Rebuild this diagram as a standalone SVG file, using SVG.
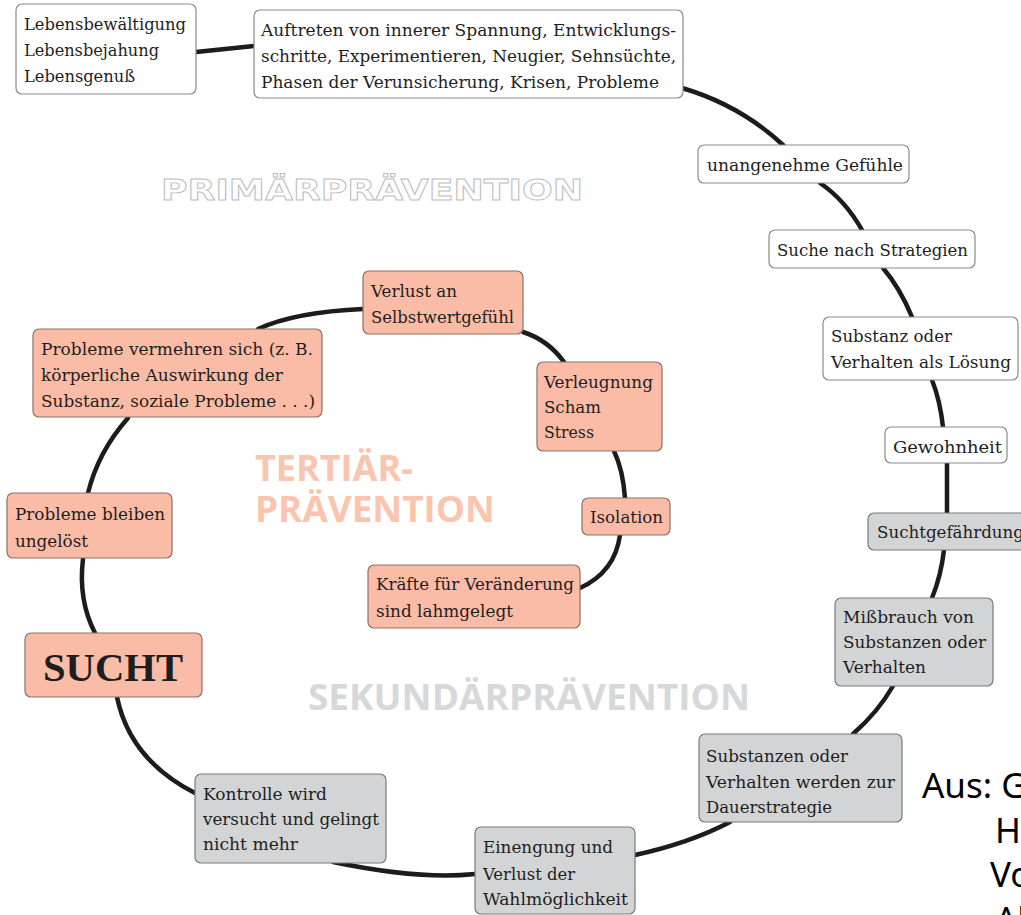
<svg xmlns="http://www.w3.org/2000/svg" width="1021" height="915" viewBox="0 0 1021 915">
<style>
.bw{fill:#ffffff;stroke:#8a8a8a;stroke-width:1.2}
.bs{fill:#fbbca7;stroke:#8c7068;stroke-width:1.2}
.bg{fill:#d3d4d6;stroke:#7a7a7a;stroke-width:1.2}
.t{font-family:"DejaVu Serif","Liberation Serif",serif;font-size:16px;fill:#1e1e1e}
.c{fill:none;stroke:#1c1c1c;stroke-width:4.5;stroke-linecap:round}
.big{font-family:"Open Sans","Noto Sans",sans-serif;font-weight:bold}
</style>
<rect width="1021" height="915" fill="#ffffff"/>
<text x="161" y="200" font-family="DejaVu Sans,sans-serif" font-weight="bold" font-size="29" fill="#ffffff" stroke="#bdbdbd" stroke-width="0.9" textLength="422" lengthAdjust="spacingAndGlyphs">PRIMÄRPRÄVENTION</text>
<text class="big" font-size="36" fill="#fbc4ae"><tspan x="255" y="481">TERTIÄR-</tspan><tspan x="255" y="522" textLength="240" lengthAdjust="spacingAndGlyphs">PRÄVENTION</tspan></text>
<text class="big" x="308" y="710" font-size="35" fill="#d7d8da" textLength="442" lengthAdjust="spacingAndGlyphs">SEKUNDÄRPRÄVENTION</text>
<g id="connectors">
<path class="c" d="M196,52 L254,46"/>
<path class="c" d="M682,88 Q740,105 783,145"/>
<path class="c" d="M820,183 Q845,200 862,230"/>
<path class="c" d="M883,268 Q900,288 912,317"/>
<path class="c" d="M932,380 Q940,400 943,427"/>
<path class="c" d="M947,463 L947,513"/>
<path class="c" d="M944,550 Q941,576 932,598"/>
<path class="c" d="M893,686 Q878,712 853,734"/>
<path class="c" d="M730,822 Q690,843 635,855"/>
<path class="c" d="M475,874 Q420,880 333,862"/>
<path class="c" d="M195,793 Q130,760 117,697"/>
<path class="c" d="M95,633 Q78,600 83,559"/>
<path class="c" d="M88,493 Q98,452 128,418"/>
<path class="c" d="M258,329 Q295,312 363,309"/>
<path class="c" d="M523,332 Q548,340 564,362"/>
<path class="c" d="M614,451 Q623,470 625,498"/>
<path class="c" d="M620,535 Q615,572 580,588"/>
</g>
<g id="n-lebens">
<rect class="bw" x="16" y="4" width="180" height="90" rx="6"/>
<text class="t" x="24" y="30" textLength="162" lengthAdjust="spacingAndGlyphs">Lebensbewältigung</text>
<text class="t" x="24" y="56" textLength="135" lengthAdjust="spacingAndGlyphs">Lebensbejahung</text>
<text class="t" x="24" y="82" textLength="111" lengthAdjust="spacingAndGlyphs">Lebensgenuß</text>
</g>
<g id="n-auftreten">
<rect class="bw" x="254" y="10" width="429" height="88" rx="6"/>
<text class="t" x="261" y="36" textLength="415" lengthAdjust="spacingAndGlyphs">Auftreten von innerer Spannung, Entwicklungs-</text>
<text class="t" x="261" y="62" textLength="415" lengthAdjust="spacingAndGlyphs">schritte, Experimentieren, Neugier, Sehnsüchte,</text>
<text class="t" x="261" y="88" textLength="398" lengthAdjust="spacingAndGlyphs">Phasen der Verunsicherung, Krisen, Probleme</text>
</g>
<g id="n-gefuehle">
<rect class="bw" x="698" y="145" width="211" height="38" rx="6"/>
<text class="t" x="707" y="171" textLength="196" lengthAdjust="spacingAndGlyphs">unangenehme Gefühle</text>
</g>
<g id="n-suche">
<rect class="bw" x="769" y="230" width="206" height="38" rx="6"/>
<text class="t" x="777" y="256" textLength="191" lengthAdjust="spacingAndGlyphs">Suche nach Strategien</text>
</g>
<g id="n-loesung">
<rect class="bw" x="823" y="317" width="195" height="63" rx="6"/>
<text class="t" x="831" y="342" textLength="121" lengthAdjust="spacingAndGlyphs">Substanz oder</text>
<text class="t" x="831" y="368" textLength="180" lengthAdjust="spacingAndGlyphs">Verhalten als Lösung</text>
</g>
<g id="n-gewohnheit">
<rect class="bw" x="885" y="427" width="122" height="36" rx="6"/>
<text class="t" x="893" y="453" textLength="109" lengthAdjust="spacingAndGlyphs">Gewohnheit</text>
</g>
<g id="n-suchtgef">
<rect class="bg" x="868" y="513" width="165" height="37" rx="6"/>
<text class="t" x="877" y="538" textLength="147" lengthAdjust="spacingAndGlyphs">Suchtgefährdung</text>
</g>
<g id="n-missbrauch">
<rect class="bg" x="835" y="598" width="158" height="88" rx="6"/>
<text class="t" x="843" y="623" textLength="131" lengthAdjust="spacingAndGlyphs">Mißbrauch von</text>
<text class="t" x="843" y="648" textLength="143" lengthAdjust="spacingAndGlyphs">Substanzen oder</text>
<text class="t" x="843" y="673" textLength="83" lengthAdjust="spacingAndGlyphs">Verhalten</text>
</g>
<g id="n-dauer">
<rect class="bg" x="699" y="734" width="203" height="88" rx="6"/>
<text class="t" x="706" y="762" textLength="142" lengthAdjust="spacingAndGlyphs">Substanzen oder</text>
<text class="t" x="706" y="788" textLength="189" lengthAdjust="spacingAndGlyphs">Verhalten werden zur</text>
<text class="t" x="706" y="813" textLength="126" lengthAdjust="spacingAndGlyphs">Dauerstrategie</text>
</g>
<g id="n-einengung">
<rect class="bg" x="475" y="827" width="160" height="87" rx="6"/>
<text class="t" x="483" y="853" textLength="130" lengthAdjust="spacingAndGlyphs">Einengung und</text>
<text class="t" x="483" y="880" textLength="92" lengthAdjust="spacingAndGlyphs">Verlust der</text>
<text class="t" x="483" y="905" textLength="145" lengthAdjust="spacingAndGlyphs">Wahlmöglichkeit</text>
</g>
<g id="n-kontrolle">
<rect class="bg" x="195" y="774" width="191" height="89" rx="6"/>
<text class="t" x="203" y="800" textLength="124" lengthAdjust="spacingAndGlyphs">Kontrolle wird</text>
<text class="t" x="203" y="825" textLength="176" lengthAdjust="spacingAndGlyphs">versucht und gelingt</text>
<text class="t" x="203" y="850" textLength="95" lengthAdjust="spacingAndGlyphs">nicht mehr</text>
</g>
<g id="n-sucht">
<rect class="bs" x="25" y="633" width="177" height="64" rx="6"/>
<text x="43" y="681" font-family="Liberation Serif,serif" font-weight="bold" font-size="41" fill="#1e1e1e" textLength="140" lengthAdjust="spacingAndGlyphs">SUCHT</text>
</g>
<g id="n-bleiben">
<rect class="bs" x="7" y="493" width="165" height="65" rx="6"/>
<text class="t" x="15" y="520" textLength="150" lengthAdjust="spacingAndGlyphs">Probleme bleiben</text>
<text class="t" x="15" y="547" textLength="73" lengthAdjust="spacingAndGlyphs">ungelöst</text>
</g>
<g id="n-vermehren">
<rect class="bs" x="33" y="329" width="289" height="88" rx="6"/>
<text class="t" x="41" y="355" textLength="272" lengthAdjust="spacingAndGlyphs">Probleme vermehren sich (z. B.</text>
<text class="t" x="41" y="381" textLength="242" lengthAdjust="spacingAndGlyphs">körperliche Auswirkung der</text>
<text class="t" x="41" y="407" textLength="274" lengthAdjust="spacingAndGlyphs">Substanz, soziale Probleme . . .)</text>
</g>
<g id="n-verlust">
<rect class="bs" x="363" y="271" width="160" height="63" rx="6"/>
<text class="t" x="371" y="297" textLength="86" lengthAdjust="spacingAndGlyphs">Verlust an</text>
<text class="t" x="371" y="323" textLength="143" lengthAdjust="spacingAndGlyphs">Selbstwertgefühl</text>
</g>
<g id="n-verleugnung">
<rect class="bs" x="537" y="362" width="125" height="89" rx="6"/>
<text class="t" x="544" y="388" textLength="109" lengthAdjust="spacingAndGlyphs">Verleugnung</text>
<text class="t" x="544" y="413" textLength="57" lengthAdjust="spacingAndGlyphs">Scham</text>
<text class="t" x="544" y="438" textLength="50" lengthAdjust="spacingAndGlyphs">Stress</text>
</g>
<g id="n-isolation">
<rect class="bs" x="582" y="498" width="88" height="37" rx="6"/>
<text class="t" x="590" y="523" textLength="73" lengthAdjust="spacingAndGlyphs">Isolation</text>
</g>
<g id="n-kraefte">
<rect class="bs" x="368" y="565" width="212" height="63" rx="6"/>
<text class="t" x="376" y="590" textLength="198" lengthAdjust="spacingAndGlyphs">Kräfte für Veränderung</text>
<text class="t" x="376" y="617" textLength="137" lengthAdjust="spacingAndGlyphs">sind lahmgelegt</text>
</g>
<g id="source" font-family="Noto Sans,DejaVu Sans,sans-serif" font-size="35" fill="#000000">
<text x="922" y="798">Aus: G</text>
<text x="995" y="843">Ha</text>
<text x="990" y="887">Vo</text>
<text x="995" y="932">Al</text>
</g>
</svg>
